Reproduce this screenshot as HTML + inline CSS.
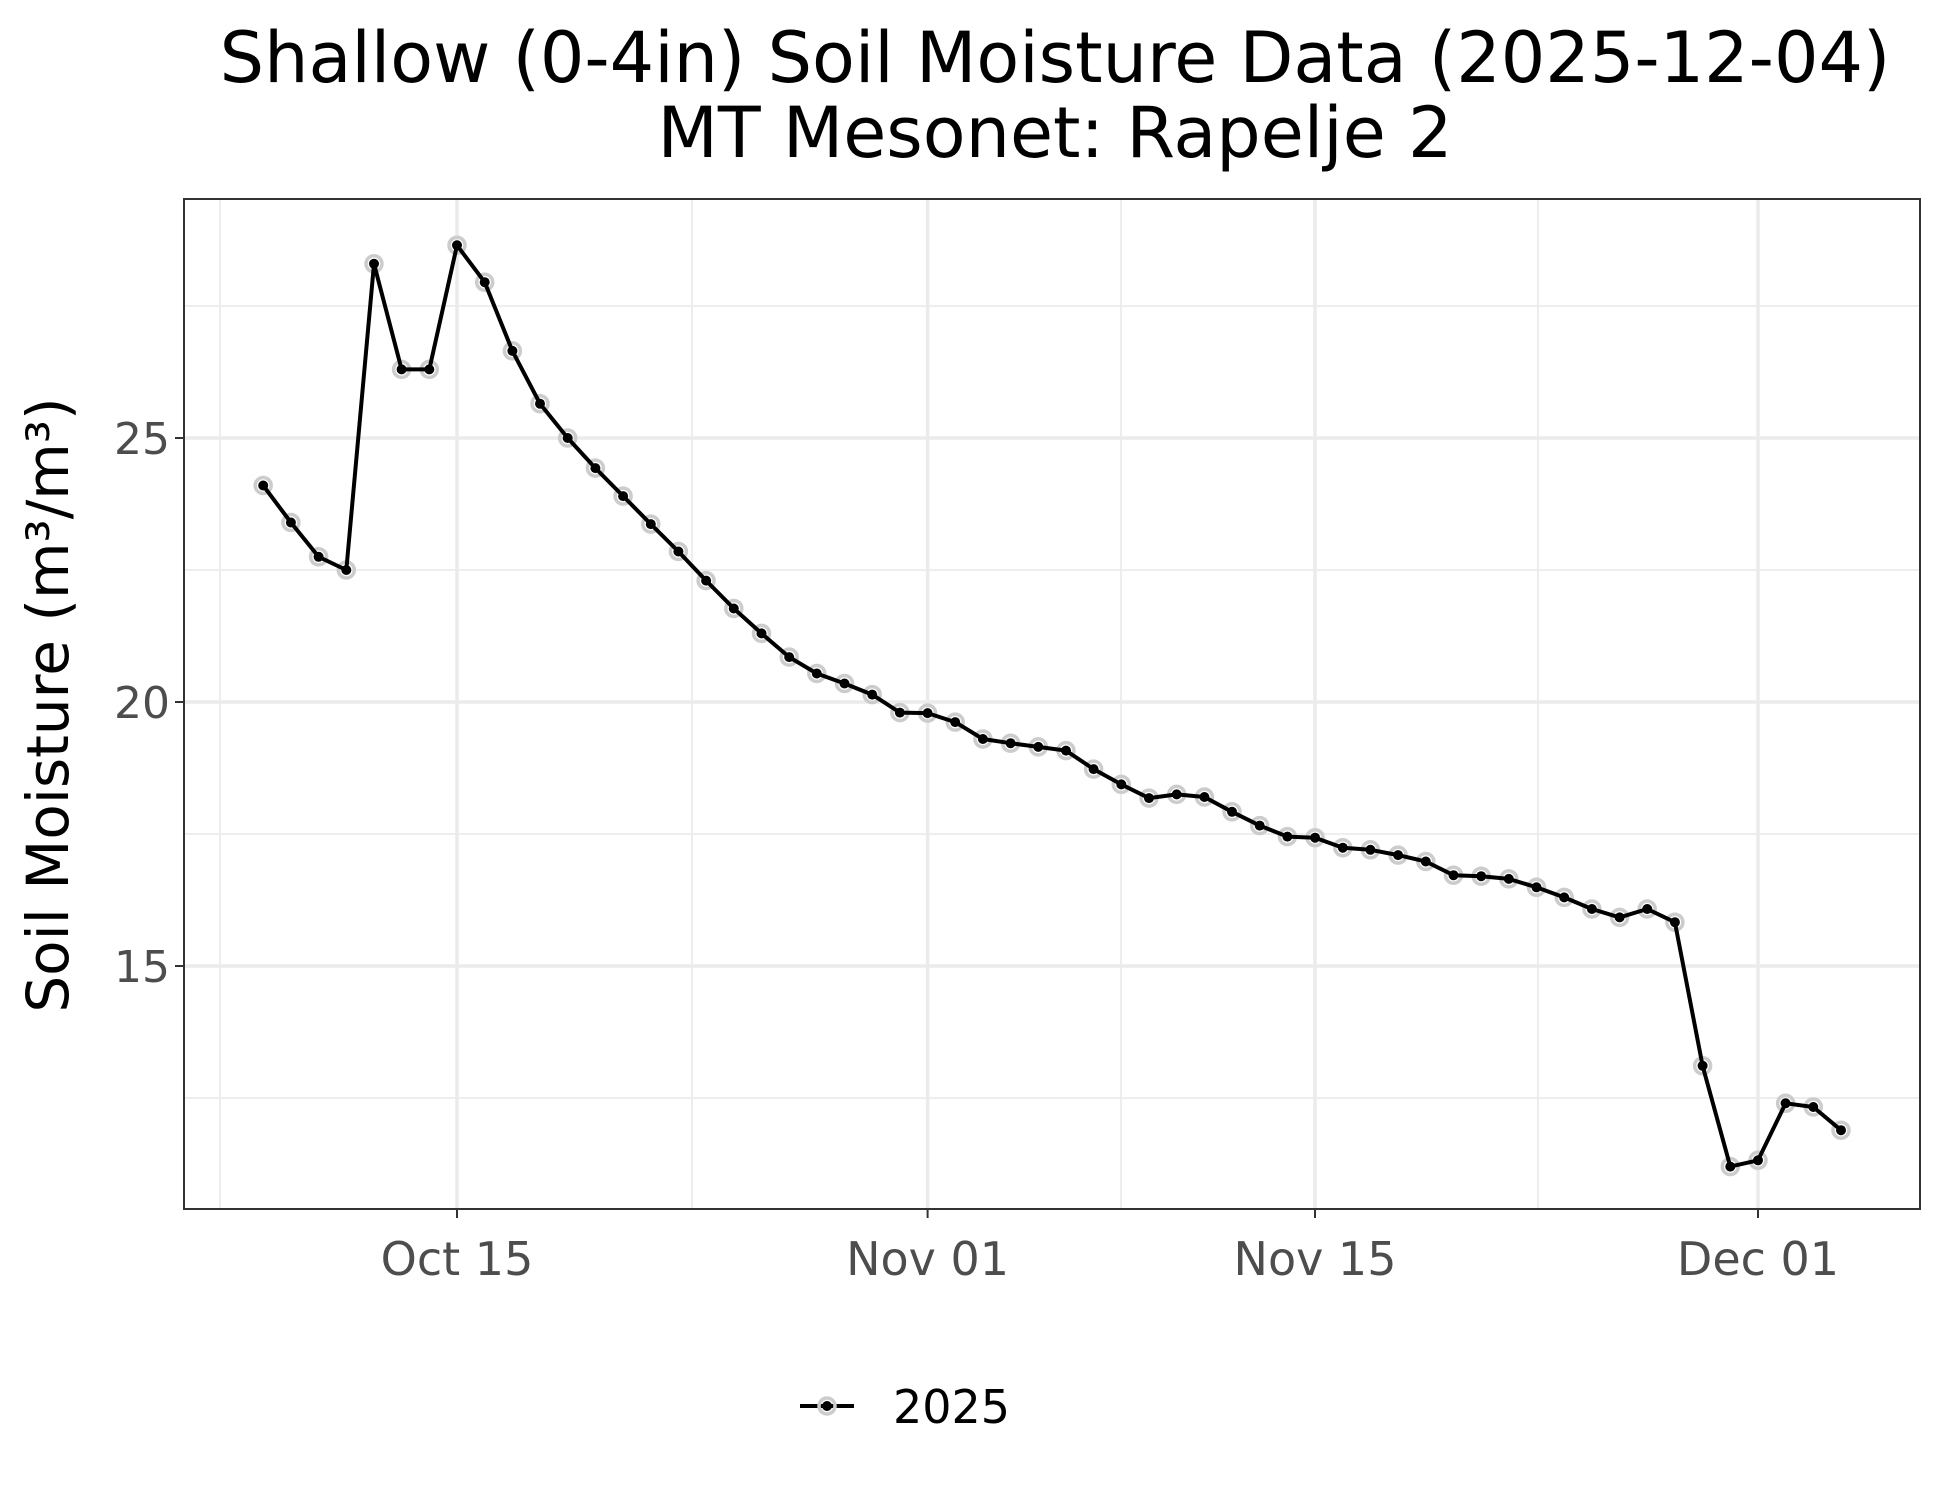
<!DOCTYPE html>
<html><head><meta charset="utf-8"><style>
html,body{margin:0;padding:0;background:#fff;}
svg{display:block;font-family:"DejaVu Sans","Liberation Sans",sans-serif;}
</style></head><body>
<svg id="s" width="1950" height="1500" viewBox="0 0 1950 1500">
<rect width="1950" height="1500" fill="#fff"/>
<g stroke="#ebebeb" stroke-width="1.8">
<line x1="220" y1="199" x2="220" y2="1209"/><line x1="692" y1="199" x2="692" y2="1209"/>
<line x1="1121" y1="199" x2="1121" y2="1209"/><line x1="1538" y1="199" x2="1538" y2="1209"/>
<line x1="184" y1="306" x2="1920" y2="306"/><line x1="184" y1="570" x2="1920" y2="570"/>
<line x1="184" y1="834" x2="1920" y2="834"/><line x1="184" y1="1098" x2="1920" y2="1098"/>
</g>
<g stroke="#ebebeb" stroke-width="3.5">
<line x1="457" y1="199" x2="457" y2="1209"/><line x1="927.6" y1="199" x2="927.6" y2="1209"/>
<line x1="1315" y1="199" x2="1315" y2="1209"/><line x1="1758" y1="199" x2="1758" y2="1209"/>
<line x1="184" y1="438" x2="1920" y2="438"/><line x1="184" y1="702" x2="1920" y2="702"/>
<line x1="184" y1="966" x2="1920" y2="966"/>
</g>
<g id="data"></g>
<rect x="184" y="199" width="1736" height="1010" fill="none" stroke="#333" stroke-width="2"/>
<g stroke="#333" stroke-width="2">
<line x1="457" y1="1209" x2="457" y2="1218"/><line x1="927.6" y1="1209" x2="927.6" y2="1218"/>
<line x1="1315" y1="1209" x2="1315" y2="1218"/><line x1="1758" y1="1209" x2="1758" y2="1218"/>
<line x1="175" y1="438" x2="184" y2="438"/><line x1="175" y1="702" x2="184" y2="702"/><line x1="175" y1="966" x2="184" y2="966"/>
</g>
<g fill="#4d4d4d" font-size="46" text-anchor="middle">
<text x="457" y="1275">Oct 15</text><text x="927.6" y="1275">Nov 01</text>
<text x="1315" y="1275">Nov 15</text><text x="1758" y="1275">Dec 01</text>
</g>
<g fill="#4d4d4d" font-size="44" text-anchor="end">
<text x="170" y="454">25</text><text x="170" y="718">20</text><text x="170" y="982">15</text>
</g>
<text transform="translate(68,705) rotate(-90)" font-size="58" text-anchor="middle" fill="#000">Soil Moisture (m³/m³)</text>
<g font-size="70" text-anchor="middle" fill="#000">
<text x="1055" y="82">Shallow (0-4in) Soil Moisture Data (2025-12-04)</text>
<text x="1055" y="157">MT Mesonet: Rapelje 2</text>
</g>
<line x1="800" y1="1406" x2="854" y2="1406" stroke="#000" stroke-width="4"/>
<circle cx="827" cy="1406" r="8" fill="none" stroke="#ccc" stroke-width="3.5"/>
<circle cx="827" cy="1406" r="5" fill="#000"/>
<text x="893" y="1423" font-size="46" fill="#000">2025</text>
</svg>
<script>
var v=[24.1,23.4,22.75,22.5,28.3,26.3,26.3,28.65,27.95,26.65,25.65,25.0,24.43,23.9,23.37,22.85,22.3,21.77,21.3,20.85,20.54,20.35,20.14,19.8,19.79,19.62,19.3,19.22,19.15,19.08,18.73,18.44,18.18,18.25,18.2,17.92,17.66,17.45,17.43,17.24,17.2,17.1,16.98,16.72,16.7,16.65,16.49,16.3,16.08,15.92,16.08,15.83,13.11,11.2,11.32,12.4,12.33,11.89];
var ns="http://www.w3.org/2000/svg",g=document.getElementById("data"),pts=[];
for(var i=0;i<v.length;i++){var x=457+(i-7)*27.68,y=702-(v[i]-20)*52.8;pts.push(x.toFixed(1)+","+y.toFixed(1));}
for(var i=0;i<pts.length;i++){var p=pts[i].split(",");var c=document.createElementNS(ns,"circle");c.setAttribute("cx",p[0]);c.setAttribute("cy",p[1]);c.setAttribute("r","8");c.setAttribute("fill","none");c.setAttribute("stroke","#ccc");c.setAttribute("stroke-width","3.5");g.appendChild(c);}
var pl=document.createElementNS(ns,"polyline");pl.setAttribute("points",pts.join(" "));pl.setAttribute("fill","none");pl.setAttribute("stroke","#000");pl.setAttribute("stroke-width","4");pl.setAttribute("stroke-linejoin","round");
g.appendChild(pl);
for(var i=0;i<pts.length;i++){var p=pts[i].split(",");var c=document.createElementNS(ns,"circle");c.setAttribute("cx",p[0]);c.setAttribute("cy",p[1]);c.setAttribute("r","5");c.setAttribute("fill","#000");g.appendChild(c);}
</script>
</body></html>
